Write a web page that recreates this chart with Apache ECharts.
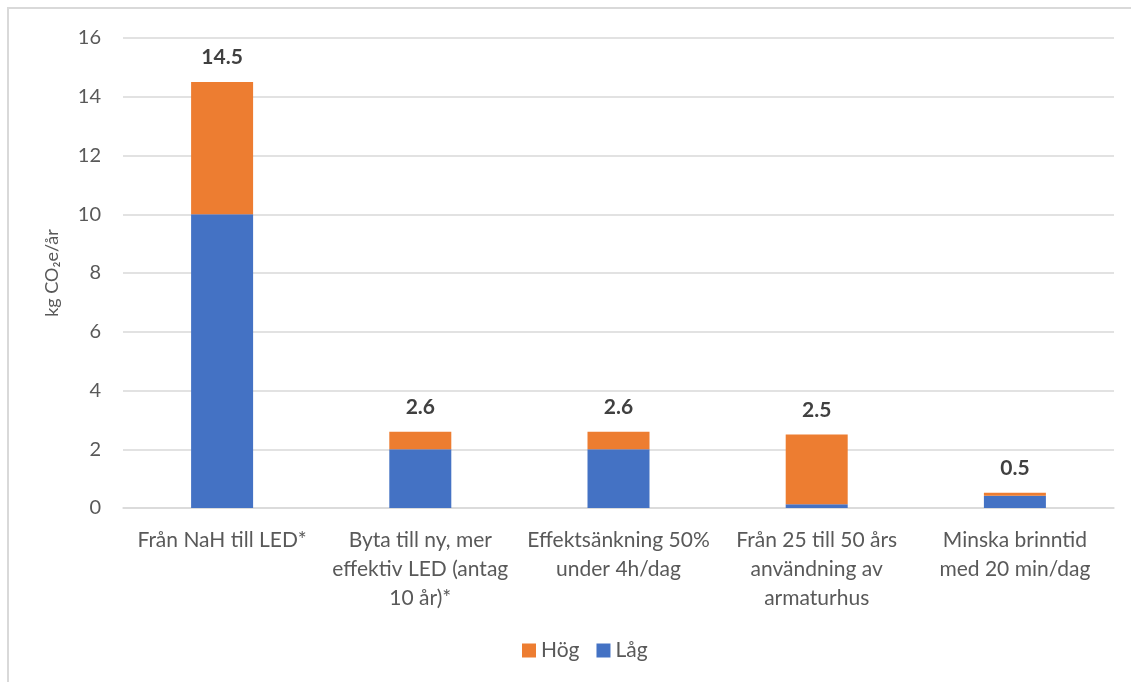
<!DOCTYPE html>
<html>
<head>
<meta charset="utf-8">
<script src="https://cdn.jsdelivr.net/npm/echarts@6/dist/echarts.min.js"></script>
<style>
  html, body { margin: 0; padding: 0; background: #fff; }
  #chart { width: 1131px; height: 682px; }
</style>
</head>
<body>
<div id="chart"></div>
<script>
// Åtgärder och uppskattade besparingar (kg CO2e per år)
const categories = [
  'Från NaH till LED*',
  'Byta till ny, mer\neffektiv LED (antag\n10 år)*',
  'Effektsänkning 50%\nunder 4h/dag',
  'Från 25 till 50 års\nanvändning av\narmaturhus',
  'Minska brinntid\nmed 20 min/dag'
];
// Totalt (hög uppskattning) och låg uppskattning
const totals = [14.5, 2.6, 2.6, 2.5, 0.52];
const lowValues = [10.0, 2.0, 2.0, 0.13, 0.42];
// Hög-delen är skillnaden ovanpå låg-delen
const highValues = totals.map((t, i) => +(t - lowValues[i]).toFixed(3));
const yTicks = { min: 0, max: 16, interval: 2 };

const font = 'Lato, "Open Sans", "Noto Sans", sans-serif';
const textColor = '#595959';

const chart = echarts.init(document.getElementById('chart'), null, { renderer: 'canvas' });
chart.setOption({
  animation: false,
  backgroundColor: '#fff',
  textStyle: { fontFamily: font },
  graphic: [{
    type: 'rect',
    shape: { x: 8, y: 8, width: 1140, height: 700 },
    style: { fill: 'none', stroke: '#d9d9d9', lineWidth: 2 },
    silent: true
  }],
  grid: { left: 123, right: 17, top: 38, bottom: 174 },
  legend: {
    data: ['Hög', 'Låg'],
    bottom: 16,
    left: 517,
    itemWidth: 14,
    itemHeight: 14,
    itemGap: 17,
    icon: 'rect',
    textStyle: { color: textColor, fontSize: 21, fontFamily: font }
  },
  xAxis: {
    type: 'category',
    data: categories,
    axisLine: { lineStyle: { color: '#d9d9d9', width: 1.5 } },
    axisTick: { show: false },
    axisLabel: {
      color: textColor, fontSize: 21, fontFamily: font,
      lineHeight: 29, margin: 18, interval: 0, align: 'center'
    }
  },
  yAxis: {
    type: 'value',
    min: yTicks.min, max: yTicks.max, interval: yTicks.interval,
    name: 'kg CO₂e/år',
    nameLocation: 'middle',
    nameGap: 62,
    nameRotate: 90,
    nameTextStyle: { color: textColor, fontSize: 18, fontFamily: font },
    axisLine: { show: false },
    axisTick: { show: false },
    axisLabel: { color: textColor, fontSize: 20, fontFamily: font, margin: 22 },
    splitLine: { lineStyle: { color: '#d9d9d9', width: 1.5 } }
  },
  series: [
    {
      name: 'Låg',
      type: 'bar',
      stack: 'total',
      data: lowValues,
      barWidth: 62,
      itemStyle: { color: '#4472C4' }
    },
    {
      name: 'Hög',
      type: 'bar',
      stack: 'total',
      data: highValues,
      barWidth: 62,
      itemStyle: { color: '#ED7D31' },
      label: {
        show: true,
        position: 'top',
        distance: 14,
        color: '#404040',
        fontSize: 21,
        fontWeight: 'bold',
        fontFamily: font,
        formatter: p => totals[p.dataIndex].toFixed(1)
      }
    }
  ]
});
</script>
</body>
</html>
